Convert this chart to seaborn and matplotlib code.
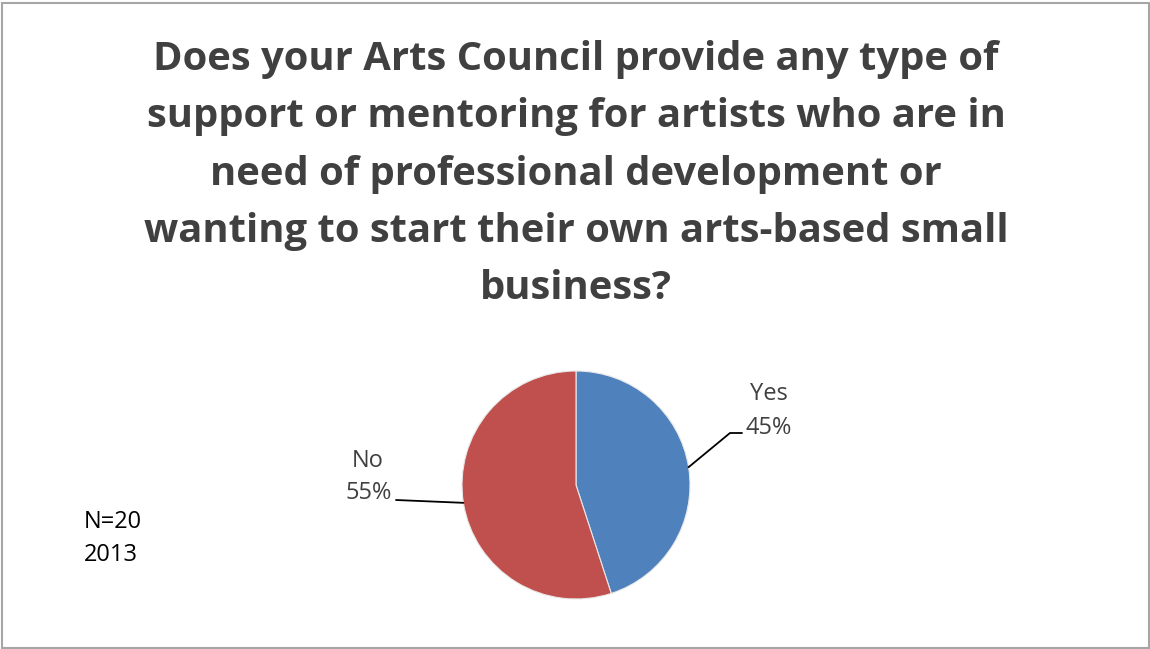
import numpy as np
import matplotlib
matplotlib.use("Agg")
import matplotlib.pyplot as plt
import seaborn as sns

categories = ["Yes", "No"]
shares = [45, 55]
slice_colors = ["#4F81BD", "#C0504D"]
title_text = ("Does your Arts Council provide any type of\n"
              "support or mentoring for artists who are in\n"
              "need of professional development or\n"
              "wanting to start their own arts-based small\n"
              "business?")
note_lines = ["N=20", "2013"]

sns.set_theme(style="white")
plt.rcParams["font.family"] = ["Open Sans", "DejaVu Sans"]

W, H = 1150, 649
fig = plt.figure(figsize=(W / 100, H / 100), dpi=100)
ax = fig.add_axes([0, 0, 1, 1])
ax.set_xlim(0, W)
ax.set_ylim(0, H)
ax.set_aspect("equal")
ax.axis("off")

# chart frame
ax.add_patch(plt.Rectangle((1.5, 1.5), W - 3, H - 4.5, fill=False,
                           edgecolor="#A6A6A6", linewidth=1.5))

cx, cy, r = 576, H - 485, 114
wedges, _ = ax.pie(shares, colors=slice_colors, startangle=90,
                   counterclock=False, center=(cx, cy), radius=r,
                   wedgeprops=dict(linewidth=0.8, edgecolor="#E8E8E8"))
ax.set_xlim(0, W)
ax.set_ylim(0, H)

label_color = "#404040"
fs = 17
# leader lines and labels
for w, cat, val in zip(wedges, categories, shares):
    mid = np.deg2rad((w.theta1 + w.theta2) / 2)
    px, py = cx + r * np.cos(mid), cy + r * np.sin(mid)
    if np.cos(mid) > 0:
        ex, ey = 730, H - 433
        hx = 742
        ax.plot([px, ex, hx], [py, ey, ey], color="black", lw=1.3)
        ax.text(hx + 4, H - 428, f"{val}%", ha="left", va="center",
                fontsize=fs, color=label_color)
        ax.text(769, H - 394, cat, ha="center", va="center",
                fontsize=fs, color=label_color)
    else:
        ex, ey = 396, H - 500
        ax.plot([px, ex], [py, ey], color="black", lw=1.3)
        ax.text(ex - 4, H - 493, f"{val}%", ha="right", va="center",
                fontsize=fs, color=label_color)
        ax.text(368, H - 461, cat, ha="center", va="center",
                fontsize=fs, color=label_color)

ax.text(576, H - 174, title_text, ha="center", va="center",
        fontsize=28.8, fontweight="bold", color="#404040", linespacing=1.61)

for i, line in enumerate(note_lines):
    ax.text(84, H - 522 - 33 * i, line, ha="left", va="center",
            fontsize=17, color="black")

fig.savefig("out.png", dpi=100)
